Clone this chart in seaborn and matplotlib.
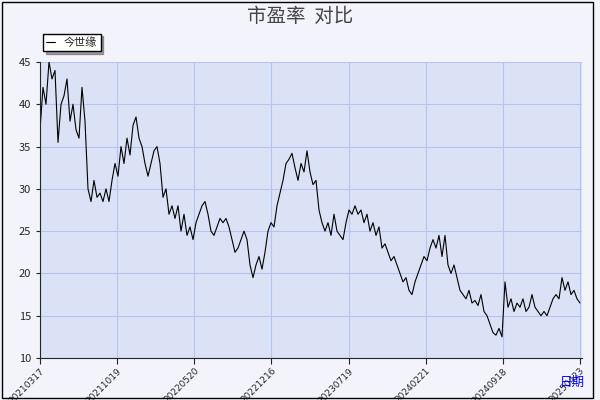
import numpy as np
import pandas as pd
import matplotlib
matplotlib.use("Agg")
import matplotlib.pyplot as plt
import seaborn as sns

# PE readings, sampled along the series
pe = [37, 42, 40, 45, 43, 44, 35.5, 40, 41, 43, 38, 40, 37, 36, 42, 38, 30, 28.5, 31, 29,
      29.5, 28.5, 30, 28.5, 31, 33, 31.5, 35, 33, 36, 34, 37.5, 38.5, 36, 35, 33, 31.5, 33, 34.5, 35,
      33, 29, 30, 27, 28, 26.5, 28, 25, 27, 24.5, 25.5, 24, 26, 27, 28, 28.5, 27, 25, 24.5, 25.5,
      26.5, 26, 26.5, 25.5, 24, 22.5, 23, 24, 25, 24, 21, 19.5, 21, 22, 20.5, 22.5, 25, 26, 25.5, 28,
      29.5, 31, 33, 33.5, 34.2, 32.5, 31, 33, 32, 34.5, 32, 30.5, 31, 27.5, 26, 25, 26, 24.5, 27, 25,
      24.5, 24, 26, 27.5, 27, 28, 27, 27.5, 26, 27, 25, 26, 24.5, 25.5, 23, 23.5, 22.5, 21.5, 22, 21,
      20, 19, 19.5, 18, 17.5, 19, 20, 21, 22, 21.5, 23, 24, 23, 24.5, 22, 24.5, 21, 20, 21, 19.5,
      18, 17.5, 17, 18, 16.5, 16.8, 16.2, 17.5, 15.5, 15, 14, 13, 12.7, 13.5, 12.5, 19, 16, 17, 15.5, 16.5,
      16, 17, 15.5, 16, 17.5, 16, 15.5, 15, 15.5, 15, 16, 17, 17.5, 17, 19.5, 18, 19, 17.5, 18, 17, 16.5]
tick_labels = ["20210317", "20211019", "20220520", "20221216",
               "20230719", "20240221", "20240918", "20250423"]

df = pd.DataFrame({"idx": np.arange(len(pe)), "pe": pe})

sns.set_style("white")
plt.rcParams['font.family'] = ['Noto Sans CJK SC', 'DejaVu Sans']

fig = plt.figure(figsize=(6, 4), dpi=100, facecolor="#f3f3fb")
ax = fig.add_axes([40/600, 42/400, 542/600, 296/400])
ax.set_facecolor("#dce2f6")
sns.lineplot(data=df, x="idx", y="pe", ax=ax, color="black", linewidth=0.8, label="今世缘")

ax.set_xlim(0, (len(pe) - 1) * 542 / 540)
ax.set_ylim(10, 45)
ax.set_yticks(range(10, 46, 5))
ticks = np.linspace(0, len(pe) - 1, len(tick_labels))
ax.set_xticks(ticks)
ax.set_xticklabels(tick_labels, rotation=45, ha="right", rotation_mode="anchor", fontsize=6.5,
                   family="DejaVu Sans")
ax.tick_params(axis="y", labelsize=8, length=3, left=True)
ax.tick_params(axis="x", length=4, bottom=True, pad=2)
ax.grid(True, color="#b4c4ee", linewidth=0.8)
for s in ["top", "right"]:
    ax.spines[s].set_visible(False)
ax.set_xlabel("")
ax.set_ylabel("")
fig.text(0.975, 0.035, "日期", color="blue", fontsize=9, ha="right")
fig.text(0.5, 0.945, "市盈率  对比", ha="center", fontsize=14, color="#444444")

leg = ax.legend(loc="upper left", bbox_to_anchor=(-0.005, 1.115), frameon=True, fancybox=False,
                fontsize=8, handlelength=0.8, shadow=True, borderpad=0.3)
leg.get_frame().set_edgecolor("black")

# outer border
fig.patches.append(plt.Rectangle((0.003, 0.006), 0.985, 0.99, transform=fig.transFigure,
                                 fill=False, edgecolor="black", linewidth=1))
fig.savefig("out.png", dpi=100, facecolor=fig.get_facecolor())
